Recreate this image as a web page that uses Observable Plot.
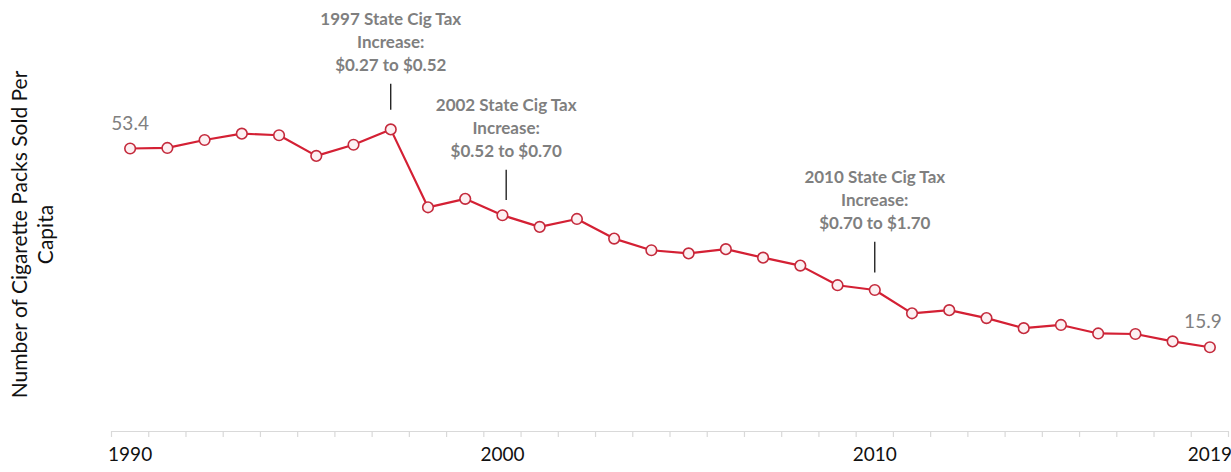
<!DOCTYPE html>
<html>
<head>
<meta charset="utf-8">
<script src="https://cdn.jsdelivr.net/npm/d3@7"></script>
<script src="https://cdn.jsdelivr.net/npm/@observablehq/plot@0.6"></script>
<style>
  html, body { margin: 0; padding: 0; background: #fff; }
  #chart svg { display: block; }
</style>
</head>
<body>
<div id="chart"></div>
<script>
const years = [1990, 1991, 1992, 1993, 1994, 1995, 1996, 1997, 1998, 1999,
               2000, 2001, 2002, 2003, 2004, 2005, 2006, 2007, 2008, 2009,
               2010, 2011, 2012, 2013, 2014, 2015, 2016, 2017, 2018, 2019];
const packs = [53.4, 53.5, 55.0, 56.2, 55.9, 52.0, 54.1, 57.0, 42.3, 43.9,
               40.8, 38.6, 40.1, 36.4, 34.2, 33.6, 34.4, 32.8, 31.3, 27.6,
               26.7, 22.3, 22.9, 21.4, 19.5, 20.1, 18.5, 18.4, 17.0, 15.9];
const tickLabels = [1990, 2000, 2010, 2019];
const categoryBounds = [1989.5, 1990.5, 1991.5, 1992.5, 1993.5, 1994.5, 1995.5, 1996.5,
                        1997.5, 1998.5, 1999.5, 2000.5, 2001.5, 2002.5, 2003.5, 2004.5,
                        2005.5, 2006.5, 2007.5, 2008.5, 2009.5, 2010.5, 2011.5, 2012.5,
                        2013.5, 2014.5, 2015.5, 2016.5, 2017.5, 2018.5, 2019.5];
const annoYears = [1997, 2000.1, 2010];
const annoTexts = ["1997 State Cig Tax\nIncrease:\n$0.27 to $0.52",
                   "2002 State Cig Tax\nIncrease:\n$0.52 to $0.70",
                   "2010 State Cig Tax\nIncrease:\n$0.70 to $1.70"];
const annoLow = [60.6, 43.6, 29.9];
const annoHigh = [65.5, 49.3, 35.7];
const yTitle = "Number of Cigarette Packs Sold Per\nCapita";

const data = years.map((y, i) => ({year: y, value: packs[i]}));
const annos = annoYears.map((y, i) => ({year: y, text: annoTexts[i], low: annoLow[i], high: annoHigh[i]}));
const firstLabel = [data[0]];
const lastLabel = [data[data.length - 1]];

const red = "#d42034";
const font = "Lato, 'Open Sans', sans-serif";

const chart = Plot.plot({
  width: 1231,
  height: 472,
  marginLeft: 111,
  marginRight: 3,
  marginTop: 7,
  marginBottom: 41,
  style: {fontFamily: font, background: "#fff"},
  x: {domain: [1989.5, 2019.5], label: null},
  y: {domain: [0, 80], axis: null},
  marks: [
    Plot.ruleY([0], {stroke: "#d9d9d9", strokeWidth: 1.2}),
    Plot.axisX({ticks: categoryBounds, tickFormat: () => "", tickSize: 6, stroke: "#d9d9d9", strokeWidth: 1.2, label: null}),
    Plot.axisX({ticks: tickLabels, tickSize: 0, tickPadding: 16, tickFormat: d => String(d),
                fontSize: 19, fill: "#111", label: null}),
    Plot.line(data, {x: "year", y: "value", stroke: red, strokeWidth: 2.2}),
    Plot.dot(data, {x: "year", y: "value", r: 5.3, fill: "#fdf0f2", stroke: "#c42a3c", strokeWidth: 1.6}),
    Plot.text(firstLabel, {x: "year", y: "value", text: d => d.value.toFixed(1),
                           dy: -25, fontSize: 19, fill: "#808080"}),
    Plot.text(lastLabel, {x: "year", y: "value", text: d => d.value.toFixed(1),
                          dy: -25, dx: -7, fontSize: 19, fill: "#808080"}),
    Plot.ruleX(annos, {x: "year", y1: "low", y2: "high", stroke: "#000", strokeWidth: 1.2}),
    Plot.text(annos, {x: "year", y: "high", text: "text", lineAnchor: "bottom", dy: -13,
                      fontSize: 17, fontWeight: "bold", fill: "#7f7f7f", lineHeight: 1.36}),
    Plot.text([yTitle], {frameAnchor: "left", text: d => d, rotate: -90, dx: -80, dy: 15,
                         textAnchor: "middle", lineAnchor: "middle", fontSize: 21, fill: "#111", lineHeight: 1.25})
  ]
});
document.getElementById("chart").appendChild(chart);
</script>
</body>
</html>
